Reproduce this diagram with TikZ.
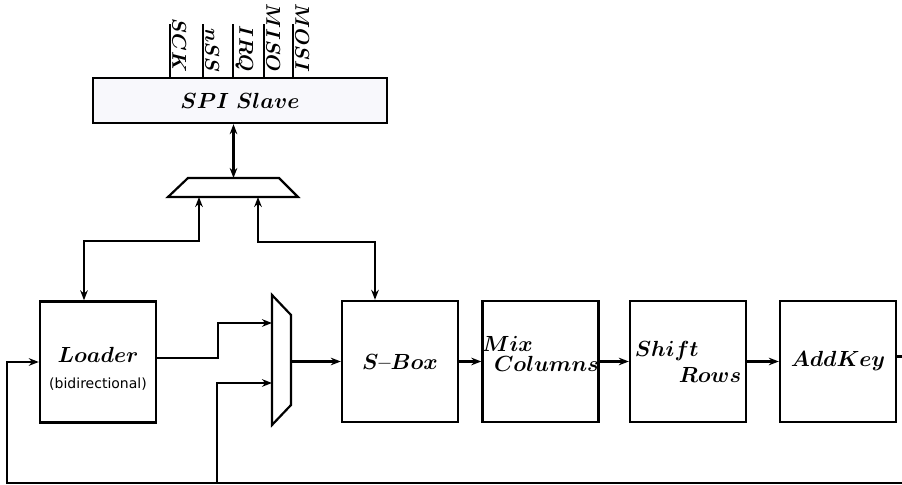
\documentclass[tikz,border=0pt]{standalone}
\usepackage{amsmath}
\usepackage[no-math]{fontspec}
\newfontfamily\dejavu{DejaVu Sans}
\usetikzlibrary{arrows.meta}
\definecolor{spifill}{RGB}{248,248,252}
\newcommand{\bsym}[1]{$\boldsymbol{#1}$}

\begin{document}
\begin{tikzpicture}[x=0.5pt, y=-0.5pt,
    blk/.style={draw, line width=1.2pt, minimum width=58pt, minimum height=60.5pt,
      inner sep=0pt, font=\fontsize{10.5}{12}\selectfont},
    lbl/.style={inner sep=0pt, font=\fontsize{10.5}{12}\selectfont},
    wire/.style={line width=1.1pt},
    arr/.style={wire, -{Stealth[length=5pt,width=3.8pt]}},
    bi/.style={wire, {Stealth[length=5pt,width=3.8pt]}-{Stealth[length=5pt,width=3.8pt]}},
    sig/.style={rotate=-90, anchor=south east, inner sep=1pt,
      font=\fontsize{9.8}{12}\selectfont}]

\useasboundingbox (0,0) rectangle (902,485);

% ---- SPI slave and its pins ----
\node[draw, fill=spifill, line width=1.2pt, minimum width=147pt, minimum height=22.5pt,
  inner sep=0pt, font=\fontsize{11}{13}\selectfont] (spi) at (240,100.5) {\bsym{SPI\ Slave}};
\foreach \x/\s in {170/SCK,203/nSS,233/IRQ,264/MISO,293/MOSI} {
  \draw[wire] (spi.north -| \x,0) -- ++(0,26.5pt) coordinate (pin-\s);
  \node[sig] (lbl-\s) at ([yshift=1pt]spi.north -| \x,0) {\bsym{\s}};
}

% ---- multiplexers ----
\draw[wire] (188,178) -- (279,178) -- (298,197) -- (168,197) -- cycle;
\coordinate (tmo) at (233.5,178);
\coordinate (tma) at (199,197);
\coordinate (tmb) at (258,197);

\draw[wire] (272,295) -- (291,315) -- (291,405) -- (272,425) -- cycle;
\coordinate (mia) at (272,323);
\coordinate (mib) at (272,383);
\coordinate (mo) at (291,361.5);

% ---- round blocks ----
\node[blk] (loader) at (98,362) {};
\node[lbl, align=center] (loadertxt) at ([yshift=-3.5pt]loader.center)
  {\bsym{Loader}\\[1pt]{\dejavu\fontsize{7}{8}\selectfont(bidirectional)}};
\node[blk] (sbox) at (400,361.5) {\bsym{S}\textbf{--}\bsym{Box}};
\node[blk] (mix) at (540.5,361.5) {};
\node[lbl, align=left] (mixtxt) at ([yshift=4pt]mix.center)
  {\bsym{Mix}\\[-2pt]\hspace{6pt}\bsym{Columns}};
\node[blk, align=left] (shift) at (688,361.5) {\bsym{Shift}\\[1pt]\hspace{22pt}\bsym{Rows}};
\node[blk] (addkey) at (838,361.5) {\bsym{AddKey}};

% ---- connections ----
\draw[bi] (tmo) -- (tmo |- spi.south);
\draw[bi] (tma) |- ([xshift=-7pt,yshift=29.5pt]loader.north) -- ([xshift=-7pt]loader.north);
\draw[bi] (tmb) |- ([xshift=-12.5pt,yshift=29pt]sbox.north) -- ([xshift=-12.5pt]sbox.north);

\draw[arr] ([yshift=2pt]loader.east) -- ++(30.5pt,0) |- (mia);
\draw[arr] (mo) -- (sbox.west);
\draw[arr] (sbox.east) -- (mix.west);
\draw[arr] (mix.east) -- (shift.west);
\draw[arr] (shift.east) -- (addkey.west);

\coordinate (fb) at (7,483);
\coordinate (jn) at (217,483);
\draw[arr] ([yshift=2.5pt]addkey.east) -- ++(10pt,0) |- (fb) |- (loader.west);
\draw[arr] (jn) |- (mib);

\end{tikzpicture}
\end{document}
